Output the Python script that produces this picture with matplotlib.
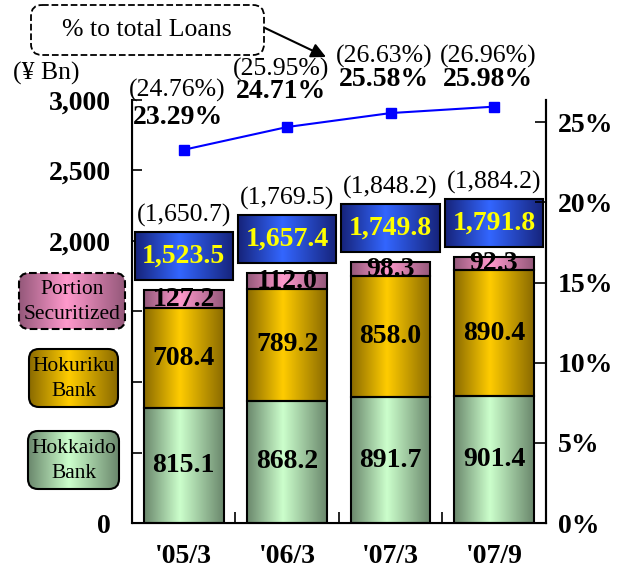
import numpy as np
import matplotlib
matplotlib.use("Agg")
import matplotlib.pyplot as plt
from matplotlib.colors import LinearSegmentedColormap
from matplotlib.patches import Rectangle, FancyBboxPatch

plt.rcParams["font.family"] = ["Liberation Serif", "DejaVu Serif"]

# データ（¥ Bn / %）
periods = ["'05/3", "'06/3", "'07/3", "'07/9"]
hokkaido = [815.1, 868.2, 891.7, 901.4]
hokuriku = [708.4, 789.2, 858.0, 890.4]
securitized = [127.2, 112.0, 98.3, 92.3]
combined = [1523.5, 1657.4, 1749.8, 1791.8]
total_incl = [1650.7, 1769.5, 1848.2, 1884.2]
pct_loans = [23.29, 24.71, 25.58, 25.98]
pct_loans_incl = [24.76, 25.95, 26.63, 26.96]
left_ticks = [0, 500, 1000, 1500, 2000, 2500, 3000]
left_ticklabels = ["0", "", "", "", "2,000", "2,500", "3,000"]
right_ticks = [0, 5, 10, 15, 20, 25]

# 配置（ラベル位置のみ）
pct_bold_y = [25.3, 26.9, 27.7, 27.7]
pct_paren_y = [27.0, 28.3, 29.1, 29.1]

GREEN = ("#6a876c", "#ccffcc")
GOLD = ("#8a6a00", "#ffcc00")
PINK = ("#94587a", "#ff99cc")
BLUE = ("#16237a", "#3366ff")

BOLD_SIZE = 20
NORM_SIZE = 18.5


def make_cmap(pair):
    dark, light = pair
    return LinearSegmentedColormap.from_list(
        "g", [(0, dark), (0.45, light), (1, dark)])


def fill_gradient(ax, patch, pair, zorder):
    bb = patch.get_bbox()
    pad = 10 if isinstance(patch, FancyBboxPatch) else 0
    grad = np.linspace(0, 1, 256).reshape(1, -1)
    im = ax.imshow(grad, extent=[bb.x0 - pad, bb.x1 + pad,
                                 bb.y0 - pad, bb.y1 + pad],
                   cmap=make_cmap(pair), aspect="auto",
                   interpolation="bicubic", zorder=zorder)
    im.set_clip_path(patch)


fig = plt.figure(figsize=(6.23, 5.71), dpi=100)
ax = fig.add_axes([0.212, 0.084, 0.664, 0.741])
ax2 = ax.twinx()

x = np.arange(len(periods))
width = 0.77
bottoms = [0.0] * len(x)
for vals, pair in [(hokkaido, GREEN), (hokuriku, GOLD), (securitized, PINK)]:
    bars = ax.bar(x, vals, width, bottom=bottoms, facecolor="none",
                  edgecolor="black", linewidth=1.5, zorder=3)
    for b in bars:
        fill_gradient(ax, b, pair, zorder=2)
    bottoms = [b + v for b, v in zip(bottoms, vals)]

# 数値ラベル
for i in range(len(x)):
    ax.text(x[i], hokkaido[i] / 2, f"{hokkaido[i]:.1f}", ha="center",
            va="center", fontsize=BOLD_SIZE, fontweight="bold", zorder=5)
    ax.text(x[i], hokkaido[i] + hokuriku[i] / 2, f"{hokuriku[i]:.1f}",
            ha="center", va="center", fontsize=BOLD_SIZE, fontweight="bold",
            zorder=5)
    ax.text(x[i], combined[i] + securitized[i] / 2, f"{securitized[i]:.1f}",
            ha="center", va="center", fontsize=BOLD_SIZE, fontweight="bold",
            zorder=5)

    # 青い合計ボックス
    box_w = 0.95
    box_b = total_incl[i] + 75
    box_h = 340
    rect = Rectangle((x[i] - box_w / 2, box_b), box_w, box_h,
                     facecolor="none", edgecolor="black", linewidth=1.5,
                     zorder=4)
    ax.add_patch(rect)
    fill_gradient(ax, rect, BLUE, zorder=3.5)
    ax.text(x[i], box_b + box_h / 2, f"{combined[i]:,.1f}", ha="center",
            va="center", fontsize=BOLD_SIZE, fontweight="bold",
            color="#ffff00", zorder=5)
    ax.text(x[i], box_b + box_h + 115, f"({total_incl[i]:,.1f})",
            ha="center", va="center", fontsize=NORM_SIZE, zorder=5)

ax.set_xlim(-0.5, len(x) - 0.5)
ax.set_ylim(0, 3000)
ax.set_yticks(left_ticks)
ax.set_yticklabels(left_ticklabels, fontsize=BOLD_SIZE, fontweight="bold")
ax.set_xticks(x)
ax.set_xticklabels(periods, fontsize=BOLD_SIZE, fontweight="bold")
ax.set_xticks(np.arange(len(x) - 1) + 0.5, minor=True)
ax.tick_params(axis="x", which="major", length=0, pad=15)
ax.tick_params(axis="x", which="minor", direction="in", length=8, width=1.2)
ax.tick_params(axis="y", direction="in", length=7, width=1.2, pad=15)
ax.spines["top"].set_visible(False)
for s in ["left", "bottom", "right"]:
    ax.spines[s].set_linewidth(1.5)

# 比率ライン
ax2.plot(x, pct_loans, color="#0000ff", linewidth=1.5, marker="s",
         markersize=7, zorder=6)
for i in range(len(x)):
    ax2.text(x[i] - 0.06, pct_bold_y[i], f"{pct_loans[i]:.2f}%",
             ha="center", va="center", fontsize=BOLD_SIZE, fontweight="bold",
             clip_on=False)
    ax2.text(x[i] - 0.06, pct_paren_y[i], f"({pct_loans_incl[i]:.2f}%)",
             ha="center", va="center", fontsize=NORM_SIZE, clip_on=False)
ax2.set_ylim(0, 26.4)
ax2.set_yticks(right_ticks)
ax2.set_yticklabels([f"{t}%" for t in right_ticks], fontsize=BOLD_SIZE,
                    fontweight="bold")
ax2.tick_params(axis="y", direction="in", length=8, width=1.2, pad=9)
ax2.spines["top"].set_visible(False)
ax2.spines["right"].set_linewidth(1.5)

# 凡例・注記（ピクセル座標）
ov = fig.add_axes([0, 0, 1, 1], zorder=10)
ov.patch.set_alpha(0)
ov.axis("off")

legend_items = [
    ("Portion\nSecuritized", PINK, (19, 273, 106, 56), "--"),
    ("Hokuriku\nBank", GOLD, (29, 349, 89, 58), "-"),
    ("Hokkaido\nBank", GREEN, (28, 431, 91, 58), "-"),
]
for label, pair, (lx, ly, lw, lh), ls in legend_items:
    p = FancyBboxPatch((lx + 10, ly + 10), lw - 20, lh - 20,
                       boxstyle="round,pad=10", facecolor="none",
                       edgecolor="black", linewidth=1.5, linestyle=ls,
                       zorder=3)
    ov.add_patch(p)
    fill_gradient(ov, p, pair, zorder=2)
    ov.text(lx + lw / 2, ly + lh / 2 + 1, label, ha="center", va="center",
            fontsize=15.5, linespacing=1.4, zorder=4)

callout = FancyBboxPatch((42, 16), 211, 28, boxstyle="round,pad=11",
                         facecolor="white", edgecolor="black",
                         linewidth=1.3, linestyle="--", zorder=3)
ov.add_patch(callout)
ov.text(147, 30, "% to total Loans", ha="center", va="center",
        fontsize=NORM_SIZE, zorder=4)
ov.annotate("", xy=(326, 57), xytext=(265, 28),
            arrowprops=dict(arrowstyle="-|>", color="black", linewidth=1.5,
                            mutation_scale=22, shrinkA=0, shrinkB=0))
ov.text(46, 73, "(¥ Bn)", ha="center", va="center", fontsize=NORM_SIZE)

ov.set_xlim(0, 623)
ov.set_ylim(571, 0)

fig.savefig("out.png", dpi=100)
